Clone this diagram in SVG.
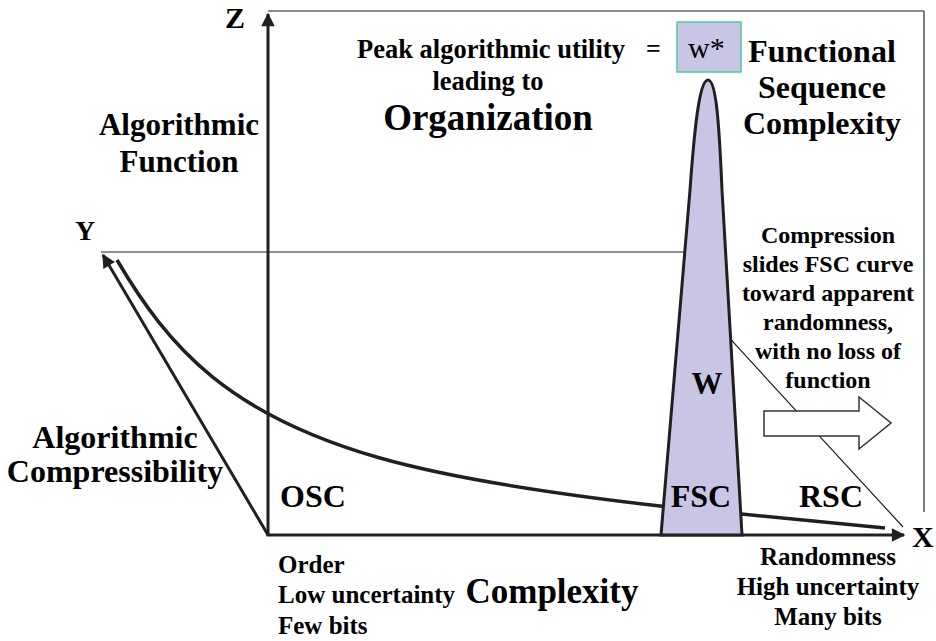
<svg xmlns="http://www.w3.org/2000/svg" width="936" height="641" viewBox="0 0 936 641">
  <style>
    .t { font-family: "Liberation Serif", "Times New Roman", serif; font-weight: 700; fill: #000; }
    .mid { text-anchor: middle; }
    .axis { stroke: #231f20; stroke-width: 3; fill: none; }
    .thin { stroke: #231f20; stroke-width: 1.2; fill: none; }
  </style>
  <defs>
    <marker id="head" viewBox="0 0 10 10" refX="9" refY="5" markerWidth="6" markerHeight="4.5" orient="auto" markerUnits="strokeWidth">
      <path d="M0,0 L10,5 L0,10 Z" fill="#231f20"/>
    </marker>
  </defs>

  <rect width="936" height="641" fill="#fff"/>

  <!-- frame of the 3D box -->
  <g id="frame">
    <line x1="268" y1="11" x2="924" y2="11" stroke="#8c8c8c" stroke-width="2"/>
    <line x1="924" y1="11" x2="924" y2="512" stroke="#555" stroke-width="1.5"/>
  </g>

  <g id="connectors">
    <!-- Y-plane outline running behind the peak -->
    <path class="thin" d="M101,252 H688 L722,330 L903,527"/>
    <!-- axes -->
    <line class="axis" x1="268" y1="536" x2="268" y2="14" marker-end="url(#head)"/>
    <line class="axis" x1="266.5" y1="535" x2="904" y2="535" marker-end="url(#head)"/>
    <line class="axis" x1="268" y1="535" x2="103" y2="255" marker-end="url(#head)"/>
    <!-- compressibility curve -->
    <path d="M117,260 C170,350 230,415 380,458 C440,475 520,490 660,506 L885,528" fill="none" stroke="#231f20" stroke-width="3.5"/>
  </g>

  <!-- functional sequence complexity peak -->
  <g id="peak">
    <path d="M661,535 L690,190 C695,120 700,80 708,80 C716,80 719,120 722,190 L742,535 Z" fill="#c8c6e4" stroke="#231f20" stroke-width="3"/>
    <text class="t mid" x="707" y="394" font-size="31">W</text>
    <text class="t mid" x="701" y="507" font-size="32">FSC</text>
  </g>

  <!-- compression direction arrow -->
  <g id="shift-arrow">
    <polygon points="764,411 859,411 859,397 891,423 859,449 859,436 764,436" fill="#fff" stroke="#333" stroke-width="1.5"/>
  </g>

  <g id="w-star">
    <rect x="677" y="22" width="64" height="50" fill="#c8c6e4" stroke="#4fc9a0" stroke-width="1.5"/>
    <text x="688" y="58" font-family="Liberation Serif, Times New Roman, serif" font-size="30" fill="#000">w*</text>
  </g>

  <g id="axis-labels">
    <text class="t" x="225" y="28" font-size="30">Z</text>
    <text class="t" x="75" y="240" font-size="28">Y</text>
    <text class="t" x="912" y="547" font-size="30">X</text>
  </g>

  <g id="peak-title">
    <text class="t" x="357" y="58" font-size="26.5">Peak algorithmic utility</text>
    <text class="t" x="646" y="57" font-size="26">=</text>
    <text class="t mid" x="488" y="90" font-size="26.5">leading to</text>
    <text class="t mid" x="488" y="130" font-size="37">Organization</text>
  </g>

  <g id="fsc-title">
    <text class="t mid" x="822" y="62" font-size="32">Functional</text>
    <text class="t mid" x="822" y="98" font-size="32">Sequence</text>
    <text class="t mid" x="822" y="134" font-size="32">Complexity</text>
  </g>

  <g id="function-label">
    <text class="t mid" x="179" y="135" font-size="31">Algorithmic</text>
    <text class="t mid" x="179" y="172" font-size="31">Function</text>
  </g>

  <g id="compressibility-label">
    <text class="t mid" x="115" y="448" font-size="32">Algorithmic</text>
    <text class="t mid" x="115" y="482" font-size="32">Compressibility</text>
  </g>

  <g id="compression-note">
    <text class="t mid" x="828" y="243" font-size="24">Compression</text>
    <text class="t mid" x="828" y="272" font-size="24">slides FSC curve</text>
    <text class="t mid" x="828" y="301" font-size="24">toward apparent</text>
    <text class="t mid" x="828" y="330" font-size="24">randomness,</text>
    <text class="t mid" x="828" y="359" font-size="24">with no loss of</text>
    <text class="t mid" x="828" y="388" font-size="24">function</text>
  </g>

  <g id="regions">
    <text class="t" x="280" y="507" font-size="32">OSC</text>
    <text class="t" x="799" y="507" font-size="32">RSC</text>
  </g>

  <g id="order-label">
    <text class="t" x="278" y="573" font-size="25">Order</text>
    <text class="t" x="278" y="603" font-size="25">Low uncertainty</text>
    <text class="t" x="278" y="634" font-size="25">Few bits</text>
  </g>

  <g id="complexity-label">
    <text class="t mid" x="552" y="603" font-size="35">Complexity</text>
  </g>

  <g id="randomness-label">
    <text class="t mid" x="828" y="565" font-size="25">Randomness</text>
    <text class="t mid" x="828" y="595" font-size="25">High uncertainty</text>
    <text class="t mid" x="828" y="625" font-size="25">Many bits</text>
  </g>
</svg>
